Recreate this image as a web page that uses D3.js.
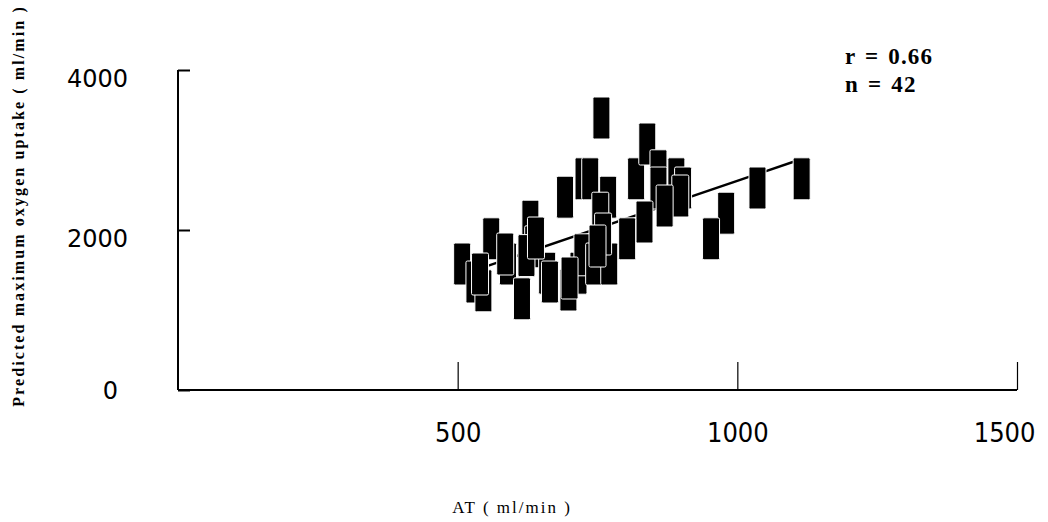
<!DOCTYPE html>
<html>
<head>
<meta charset="utf-8">
<script src="https://cdn.jsdelivr.net/npm/d3@7"></script>
<style>
    body { margin: 0; background: #fff; }
    svg { display: block; }
</style>
</head>
<body>
<div id="chart"></div>
<script>
// AT (ml/min) vs predicted max VO2 (ml/min)
let atValues = [757, 725, 737, 692, 769, 755, 819, 839, 859, 891, 903, 898, 859, 834,
    803, 560, 630, 508, 530, 546, 590, 635, 623, 615, 660, 665, 698, 716, 723, 744,
    771, 760, 980, 953, 1036, 1115, 585, 640, 700, 750, 870, 540];
let vo2Values = [3400, 2640, 2640, 2410, 2410, 2210, 2640, 3075, 2740, 2640, 2525, 2425, 2525, 2100,
    1890, 1890, 2110, 1575, 1350, 1240, 1575, 1790, 1680, 1140, 1460, 1350, 1250, 1460, 1690, 1575,
    1575, 1950, 2210, 1890, 2525, 2640, 1700, 1900, 1400, 1800, 2300, 1450];

// regression line end points
let fitX = [508, 1115];
let fitY = [1443, 2888];

let xTicks = [500, 1000, 1500];
let yTicks = [0, 2000, 4000];
let statLines = ["r = 0.66", "n = 42"];

let width = 1048, height = 522;

let svg = d3.select("#chart").append("svg")
    .attr("width", width)
    .attr("height", height);

let x = d3.scaleLinear().domain([0, 1500]).range([178, 1017]);
let y = d3.scaleLinear().domain([0, 4000]).range([390, 70]);

// axes
let xAxis = d3.axisBottom(x)
    .tickValues(xTicks)
    .tickSize(-28)
    .tickPadding(33)
    .tickFormat(d3.format("d"));

svg.append("g")
    .attr("transform", `translate(0, ${y(0)})`)
    .call(xAxis)
    .call(g => g.select(".domain").remove())
    .call(g => g.selectAll(".tick line").attr("stroke", "#000").attr("stroke-width", 1.2))
    .call(g => g.selectAll(".tick text")
        .attr("font-family", "'DejaVu Sans Condensed', 'DejaVu Sans', sans-serif")
        .attr("font-size", 27)
        .attr("fill", "#000"))
    // last label sits left of its tick in the original
    .call(g => g.selectAll(".tick text").filter(d => d === 1500)
        .attr("text-anchor", "end")
        .attr("x", 18));

svg.append("line")
    .attr("x1", x(0)).attr("x2", x(1500))
    .attr("y1", y(0)).attr("y2", y(0))
    .attr("stroke", "#000").attr("stroke-width", 2);

let yAxis = d3.axisLeft(y)
    .tickValues(yTicks)
    .tickSize(-12)
    .tickPadding(50)
    .tickFormat(d3.format("d"));

svg.append("g")
    .attr("transform", `translate(${x(0)}, 0)`)
    .call(yAxis)
    .call(g => g.select(".domain").remove())
    .call(g => g.selectAll(".tick line").attr("stroke", "#000").attr("stroke-width", 2))
    .call(g => g.selectAll(".tick text")
        .attr("font-family", "'DejaVu Sans', sans-serif")
        .attr("font-size", 24)
        .attr("dy", "0.7em")
        .attr("fill", "#000"))
    .call(g => g.selectAll(".tick text").filter(d => d === 0)
        .attr("x", -60)
        .attr("dy", "0.35em"));

svg.append("line")
    .attr("x1", x(0)).attr("x2", x(0))
    .attr("y1", y(4000)).attr("y2", y(0))
    .attr("stroke", "#000").attr("stroke-width", 2);

// regression line (under the markers)
svg.append("line")
    .attr("x1", x(fitX[0])).attr("y1", y(fitY[0]))
    .attr("x2", x(fitX[1])).attr("y2", y(fitY[1]))
    .attr("stroke", "#000")
    .attr("stroke-width", 2.5);

// markers: tall black boxes with a white rim
let boxW = 17, boxH = 42;
svg.append("g")
    .selectAll("rect")
    .data(atValues.map((d, i) => ({at: d, vo2: vo2Values[i]})))
    .enter()
    .append("rect")
    .attr("x", d => x(d.at) - boxW / 2)
    .attr("y", d => y(d.vo2) - boxH / 2)
    .attr("width", boxW)
    .attr("height", boxH)
    .attr("rx", 1.5)
    .attr("fill", "#000")
    .attr("stroke", "#fff")
    .attr("stroke-width", 1);

// r / n
svg.append("g")
    .selectAll("text")
    .data(statLines)
    .enter()
    .append("text")
    .attr("x", 845)
    .attr("y", (d, i) => 64 + i * 28)
    .attr("font-family", "'Liberation Serif', serif")
    .attr("font-weight", "bold")
    .attr("font-size", 23)
    .attr("letter-spacing", 1.2)
    .attr("word-spacing", 2)
    .text(d => d);

// axis titles
svg.append("text")
    .attr("transform", `translate(24, 206) rotate(-90)`)
    .attr("text-anchor", "middle")
    .attr("font-family", "'Liberation Serif', serif")
    .attr("font-weight", "bold")
    .attr("font-size", 16)
    .attr("letter-spacing", 2.1)
    .text("Predicted maximum oxygen uptake ( ml/min )");

svg.append("text")
    .attr("x", 512)
    .attr("y", 513)
    .attr("text-anchor", "middle")
    .attr("font-family", "'Liberation Serif', serif")
    .attr("font-size", 17)
    .attr("letter-spacing", 2)
    .text("AT ( ml/min )");
</script>
</body>
</html>
